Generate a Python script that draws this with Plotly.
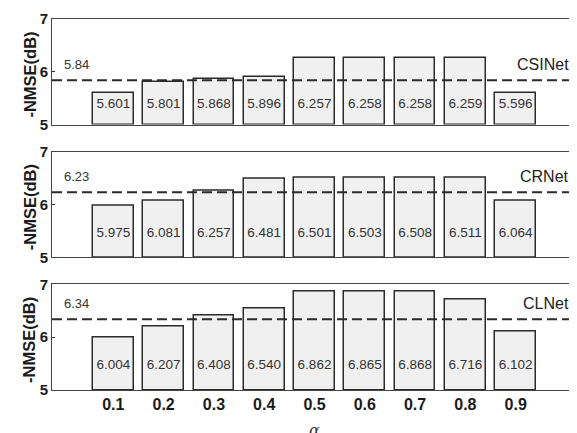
import plotly.graph_objects as go
from plotly.subplots import make_subplots

alphas = [0.1, 0.2, 0.3, 0.4, 0.5, 0.6, 0.7, 0.8, 0.9]
tick_labels = ["0.1", "0.2", "0.3", "0.4", "0.5", "0.6", "0.7", "0.8", "0.9"]
models = ["CSINet", "CRNet", "CLNet"]
baselines = [5.84, 6.23, 6.34]
csinet_vals = [5.601, 5.801, 5.868, 5.896, 6.257, 6.258, 6.258, 6.259, 5.596]
crnet_vals = [5.975, 6.081, 6.257, 6.481, 6.501, 6.503, 6.508, 6.511, 6.064]
clnet_vals = [6.004, 6.207, 6.408, 6.540, 6.862, 6.865, 6.868, 6.716, 6.102]
series = [csinet_vals, crnet_vals, clnet_vals]

FONT = "Liberation Sans, Arial, sans-serif"
LABEL_Y = [5.38, 5.44, 5.47]

fig = make_subplots(rows=3, cols=1, shared_xaxes=True, vertical_spacing=0.073)

for i, (name, base, vals) in enumerate(zip(models, baselines, series)):
    r = i + 1
    fig.add_trace(go.Bar(
        x=alphas, y=[v - 5 for v in vals], base=5, width=0.081,
        marker=dict(color="#f0f0f0", line=dict(color="#2b2b2b", width=1.5)),
        showlegend=False, hoverinfo="skip"), row=r, col=1)
    fig.add_trace(go.Scatter(
        x=alphas, y=[LABEL_Y[i]] * len(alphas), mode="text",
        text=[f"{v:.3f}" for v in vals],
        textfont=dict(family=FONT, size=13.5, color="#333333"),
        showlegend=False, hoverinfo="skip"), row=r, col=1)
    yref = "y" if r == 1 else f"y{r}"
    xref = "x" if r == 1 else f"x{r}"
    fig.add_shape(type="line", xref=f"{xref} domain", yref=yref,
                  x0=0, x1=1, y0=base, y1=base,
                  line=dict(color="#2b2b2b", width=2, dash="10px,5px"))
    fig.add_annotation(xref=f"{xref} domain", yref=yref, x=0.019, y=base + 0.3,
                       text=f"{base:.2f}", showarrow=False, xanchor="left",
                       font=dict(family=FONT, size=13, color="#333333"))
    fig.add_annotation(xref=f"{xref} domain", yref=yref, x=0.995, y=base + 0.3,
                       text=name, showarrow=False, xanchor="right",
                       font=dict(family=FONT, size=16, color="#222222"))
    fig.add_annotation(xref="paper", yref=f"{yref} domain", x=-0.064, y=0.47,
                       text="-NMSE(dB)", textangle=-90, showarrow=False,
                       font=dict(family=FONT, size=16.5, color="#1a1a1a", weight="bold"))
    fig.update_yaxes(range=[5, 7], tickvals=[5, 6, 7], ticks="inside", ticklen=3,
                     tickcolor="#333333",
                     tickfont=dict(family=FONT, size=15, color="#1a1a1a", weight="bold"),
                     showgrid=False, zeroline=False, showline=True, mirror=True,
                     linecolor="#444444", linewidth=1, row=r, col=1)
    fig.update_xaxes(range=[-0.022, 1.016], tickvals=alphas, ticktext=tick_labels,
                     showgrid=False, zeroline=False, showline=True, mirror=True,
                     linecolor="#444444", linewidth=1, ticks="",
                     tickfont=dict(family=FONT, size=16, color="#1a1a1a", weight="bold"),
                     row=r, col=1)

fig.add_annotation(xref="x3", yref="paper", x=0.5, y=-0.078,
                   text="α", showarrow=False, yanchor="top",
                   font=dict(family="DejaVu Serif, serif", size=16, color="#333333", style="italic"))

fig.update_layout(width=569, height=425, margin=dict(l=44, r=2, t=4, b=43),
                  plot_bgcolor="white", paper_bgcolor="white", bargap=0)

fig.write_html("out.html")
